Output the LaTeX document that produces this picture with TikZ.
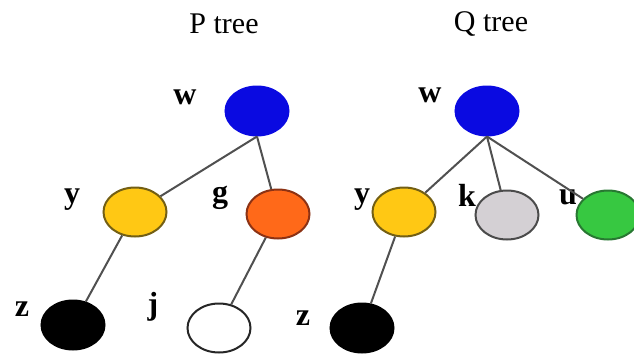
\documentclass[tikz,border=0pt]{standalone}
\usepackage{fontspec}
\setmainfont{Liberation Serif}
\usepackage{xcolor}
\usepackage{tikz}
\usetikzlibrary{shapes.geometric}

\definecolor{wblue}{RGB}{10,10,225}
\definecolor{yfill}{RGB}{255,200,20}
\definecolor{yline}{RGB}{115,95,20}
\definecolor{gfill}{RGB}{255,105,25}
\definecolor{gline}{RGB}{140,50,20}
\definecolor{kfill}{RGB}{212,208,212}
\definecolor{kline}{RGB}{75,75,75}
\definecolor{ufill}{RGB}{55,200,65}
\definecolor{uline}{RGB}{40,120,50}
\definecolor{edge}{RGB}{80,80,80}

\begin{document}
\begin{tikzpicture}[x=1pt,y=-1pt,
    vert/.style={draw,ellipse,line width=2pt,minimum width=63pt,minimum height=49pt,inner sep=0pt},
    lbl/.style={font=\fontsize{32}{32}\selectfont\bfseries},
    ttl/.style={font=\fontsize{30}{30}\selectfont},
    branch/.style={draw=edge,line width=2pt}]
    \useasboundingbox (0,0) rectangle (634,356);

    \node[ttl] (ptitle) at (224,24) {P tree};
    \node[ttl] (qtitle) at (491,24) {Q tree};

    % P tree
    \node[vert,draw=wblue,fill=wblue] (pw) at (257,111) {};
    \node[vert,draw=yline,fill=yfill] (py) at (135,212) {};
    \node[vert,draw=gline,fill=gfill] (pg) at (278,214) {};
    \node[vert,fill=black] (pz) at (73,325) {};
    \node[vert,draw=black!85,fill=white] (pj) at (219,328) {};
    \node[lbl] (pwl) at (185,97) {w};
    \node[lbl] (pyl) at (72,200) {y};
    \node[lbl] (pgl) at (220,198) {g};
    \node[lbl] (pzl) at (22,309) {z};
    \node[lbl] (pjl) at (153,307) {j};
    \draw[branch] (pw.south) to (py);
    \draw[branch] (pw.south) to (pg);
    \draw[branch] (py) to (pz);
    \draw[branch] (pg) to (pj);

    % Q tree
    \node[vert,draw=wblue,fill=wblue] (qw) at (487,111) {};
    \node[vert,draw=yline,fill=yfill] (qy) at (404,212) {};
    \node[vert,draw=kline,fill=kfill] (qk) at (507,215) {};
    \node[vert,draw=uline,fill=ufill] (qu) at (608,215) {};
    \node[vert,fill=black] (qz) at (362,328) {};
    \node[lbl] (qwl) at (430,95) {w};
    \node[lbl] (qyl) at (362,200) {y};
    \node[lbl] (qkl) at (467,195) {k};
    \node[lbl] (qul) at (568,197) {u};
    \node[lbl] (qzl) at (303,318) {z};
    \draw[branch] (qw.south) to (qy);
    \draw[branch] (qw.south) to (qk);
    \draw[branch] (qw.south) to (qu);
    \draw[branch] (qy) to (qz);
\end{tikzpicture}
\end{document}
